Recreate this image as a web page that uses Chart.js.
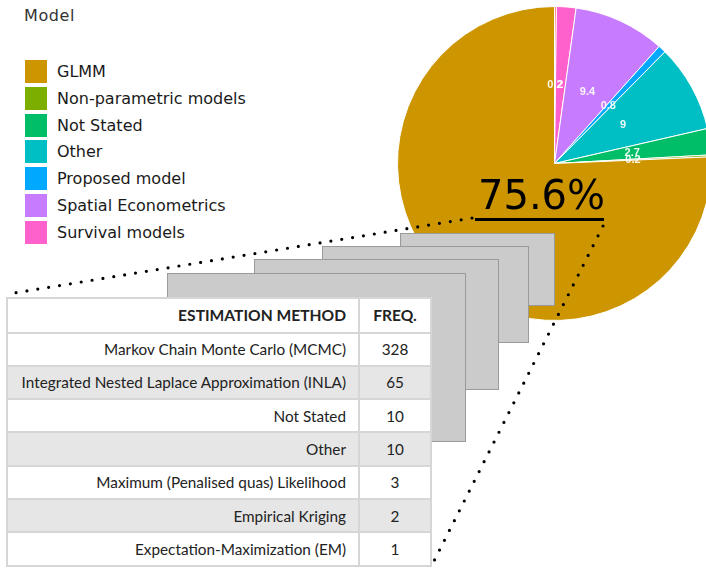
<!DOCTYPE html>
<html>
<head>
<meta charset="utf-8">
<script src="https://cdn.jsdelivr.net/npm/chart.js@4"></script>
<style>
  html, body { margin:0; padding:0; background:#fff; width:706px; height:588px; overflow:hidden; position:relative; }
  #pieWrap { position:absolute; left:397px; top:5.5px; width:315px; height:315px; }
  #title { position:absolute; left:24px; top:6px; font-family:"DejaVu Sans"; font-size:16px; letter-spacing:0.6px; color:#333; }
  #legend { position:absolute; left:25px; top:60px; font-family:"DejaVu Sans"; font-size:16px; color:#1a1a1a; }
  .item { position:relative; height:26.8px; }
  .sw { position:absolute; left:0; top:0; width:22px; height:23px; }
  .lab { position:absolute; left:32px; top:2px; white-space:nowrap; line-height:19px; }
  #big { position:absolute; left:478px; top:171px; font-family:"DejaVu Sans"; font-size:40px; color:#000; line-height:48px; }
  #uline { position:absolute; left:475px; top:217.5px; width:129px; height:3px; background:#000; }
  .card { position:absolute; background:#cbcbcb; border:1px solid #9a9a9a; box-sizing:border-box; }
  #tbl { position:absolute; left:6px; top:297px; border-collapse:collapse; background:#fff; font-family:Lato; font-size:15.3px; color:#222; border:2px solid #d8d8d8; }
  #tbl td, #tbl th { border:2px solid #d6d6d6; padding:0 12px; height:31.3px; }
  #tbl th { font-weight:bold; font-size:15.6px; height:32.5px; }
  #tbl td.m, #tbl th.m { text-align:right; width:326px; }
  #tbl td.f, #tbl th.f { text-align:center; width:46px; }
  #tbl tr.g td { background:#e6e6e6; }
  svg { position:absolute; left:0; top:0; }
</style>
</head>
<body>
<div id="pieWrap"><canvas id="pie" width="315" height="315"></canvas></div>
<div id="big"></div>
<div id="uline"></div>
<div id="title">Model</div>
<div id="legend"></div>
<div class="card" style="left:400px;top:233px;width:155px;height:73px;"></div>
<div class="card" style="left:322px;top:246px;width:207px;height:97px;"></div>
<div class="card" style="left:254px;top:259px;width:245px;height:131px;"></div>
<div class="card" style="left:167px;top:273px;width:299px;height:169px;"></div>
<table id="tbl"></table>
<svg width="706" height="588">
  <line x1="472" y1="218" x2="8" y2="294" stroke="#000" stroke-width="3.2" stroke-linecap="round" stroke-dasharray="0 11"/>
  <line x1="603" y1="226" x2="432" y2="565" stroke="#000" stroke-width="3.2" stroke-linecap="round" stroke-dasharray="0 11"/>
</svg>
<script>
// Pie data (legend order); last entry is a thin unlabelled slice shown at the top of the pie
const categories = ["GLMM", "Non-parametric models", "Not Stated", "Other", "Proposed model", "Spatial Econometrics", "Survival models", ""];
const shares = [75.6, 0.2, 2.7, 9, 0.8, 9.4, 2, 0.2];
const colors = ["#CD9600", "#7CAE00", "#00BE67", "#00BFC4", "#00A9FF", "#C77CFF", "#FF61CC", "#F8766D"];
const legendTitle = "Model";
const highlightIndex = 0;

// Table data
const methods = ["Markov Chain Monte Carlo (MCMC)", "Integrated Nested Laplace Approximation (INLA)", "Not Stated", "Other", "Maximum (Penalised quas) Likelihood", "Empirical Kriging", "Expectation-Maximization (EM)"];
const freqs = [328, 65, 10, 10, 3, 2, 1];
const tableHeaders = ["ESTIMATION METHOD", "FREQ."];

// legend
const lg = document.getElementById('legend');
categories.forEach((c, i) => {
  if (!c) return;
  const d = document.createElement('div'); d.className = 'item';
  d.innerHTML = '<div class="sw" style="background:' + colors[i] + '"></div><div class="lab">' + c + '</div>';
  lg.appendChild(d);
});
document.getElementById('title').textContent = legendTitle;
document.getElementById('big').textContent = shares[highlightIndex] + '%';

// table
const tbl = document.getElementById('tbl');
let html = '<tr><th class="m">' + tableHeaders[0] + '</th><th class="f">' + tableHeaders[1] + '</th></tr>';
methods.forEach((m, i) => {
  html += '<tr class="' + (i % 2 === 1 ? 'g' : '') + '"><td class="m">' + m + '</td><td class="f">' + freqs[i] + '</td></tr>';
});
tbl.innerHTML = html;

// pie drawn clockwise in reverse legend order
const order = shares.map((_, i) => i).reverse();
const labelPlugin = {
  id: 'sliceLabels',
  afterDatasetsDraw(chart) {
    const ctx = chart.ctx;
    const meta = chart.getDatasetMeta(0);
    ctx.save();
    ctx.font = 'bold 11px "Liberation Sans"';
    ctx.fillStyle = 'rgba(255,255,255,0.92)';
    ctx.textAlign = 'center';
    ctx.textBaseline = 'middle';
    meta.data.forEach((arc, j) => {
      const idx = order[j];
      if (idx === highlightIndex) return;
      const p = arc.tooltipPosition();
      ctx.fillText(String(shares[idx]), p.x, p.y);
    });
    ctx.restore();
  }
};
new Chart(document.getElementById('pie'), {
  type: 'pie',
  data: {
    labels: order.map(i => categories[i]),
    datasets: [{
      data: order.map(i => shares[i]),
      backgroundColor: order.map(i => colors[i]),
      borderColor: '#ffffff',
      borderWidth: 1
    }]
  },
  options: {
    responsive: false,
    animation: false,
    layout: { padding: 0 },
    plugins: { legend: { display: false }, tooltip: { enabled: false } }
  },
  plugins: [labelPlugin]
});
</script>
</body>
</html>
